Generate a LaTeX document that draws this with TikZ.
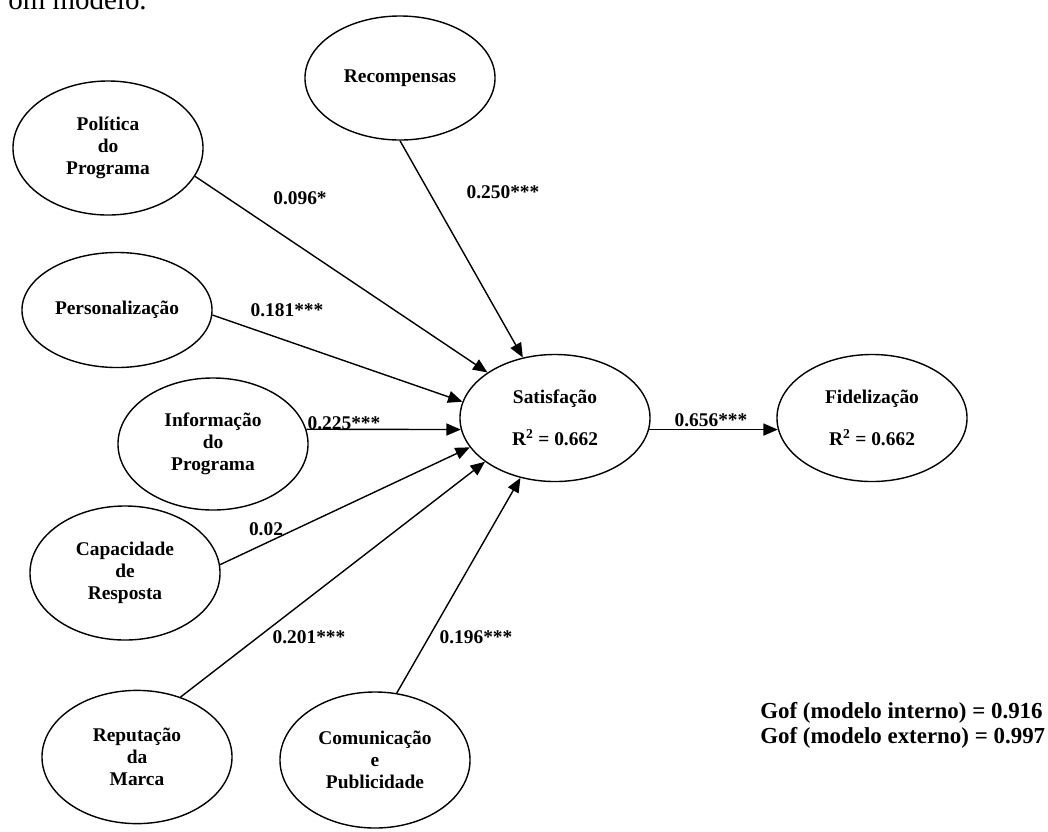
\documentclass[tikz,border=0pt]{standalone}
\usepackage{fontspec}
\setmainfont{Liberation Serif}
\usetikzlibrary{shapes.geometric,arrows.meta}
\begin{document}
\begin{tikzpicture}[x=0.025cm,y=-0.025cm,
  lat/.style={ellipse,draw,line width=1pt,minimum width=4.75cm,inner sep=0pt,align=center,font=\fontsize{13.8}{15.6}\selectfont\bfseries},
  lbl/.style={inner sep=0pt,font=\fontsize{13.8}{15.6}\selectfont\bfseries},
  conn/.style={line width=1pt,-{Triangle[length=3.6mm,width=3mm]}}
]
\useasboundingbox (0,0) rectangle (1048,831);
\node[anchor=base east,inner sep=0pt,font=\fontsize{20.6}{24}\selectfont] (top) at (147,9.5) {om modelo.};

\node[lat,minimum height=3.1cm] (rec) at (400,78) {Recompensas};
\node[lat,minimum height=3.35cm] (pol) at (108,148) {Política\\do\\Programa};
\node[lat,minimum height=2.875cm] (per) at (117,310) {Personalização};
\node[lat,minimum height=3.3cm] (inf) at (213,444) {Informação\\do\\Programa};
\node[lat,minimum height=3.35cm] (cap) at (125,573) {Capacidade\\de\\Resposta};
\node[lat,minimum height=3.33cm] (rep) at (137,757) {Reputação\\da\\Marca};
\node[lat,minimum height=3.4cm] (com) at (375,760) {Comunicação\\e\\Publicidade};
\node[lat,minimum height=3.175cm] (sat) at (555,418) {Satisfação\\[0.5cm]R\textsuperscript{2} = 0.662};
\node[lat,minimum height=3.175cm] (fid) at (872,418) {Fidelização\\[0.5cm]R\textsuperscript{2} = 0.662};

\draw[conn] (rec.south) -- (sat.118);
\draw[conn] (pol.-18) -- (sat.146);
\draw[conn] (per.-3) -- (sat.170);
\draw[conn] (inf.9) -- (sat.187);
\draw[conn] (cap.5) -- (sat.199);
\draw[conn] (rep.54) -- (sat.212);
\draw[conn] (com.72) -- (sat.240);
\draw[conn] (sat.-7) -- (fid.187);

\node[lbl] (l1) at (300,198) {0.096*};
\node[lbl] (l2) at (503,192) {0.250***};
\node[lbl] (l3) at (287,310) {0.181***};
\node[lbl] (l4) at (344,423) {0.225***};
\node[lbl] (l5) at (266,529) {0.02};
\node[lbl] (l6) at (309,637) {0.201***};
\node[lbl] (l7) at (476,637) {0.196***};
\node[lbl] (l8) at (711,420) {0.656***};

\node[anchor=west,align=left,inner sep=0pt,font=\fontsize{16.3}{17.8}\selectfont\bfseries] (gof) at (760,725.5) {Gof (modelo interno) = 0.916\\Gof (modelo externo) = 0.997};
\end{tikzpicture}
\end{document}
